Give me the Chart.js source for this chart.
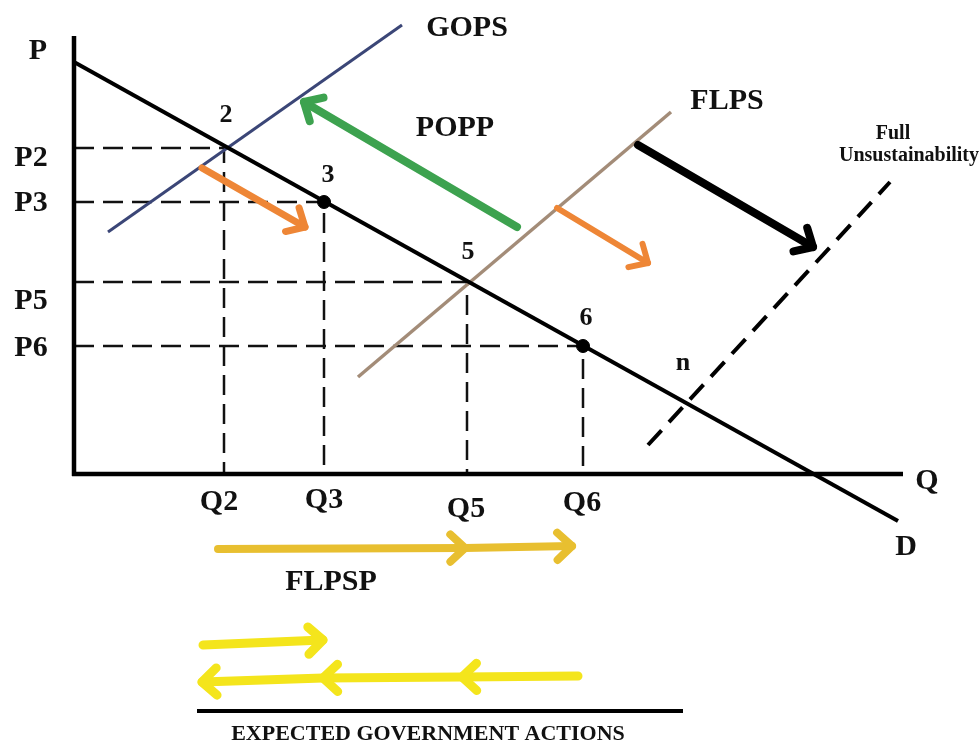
<!DOCTYPE html>
<html>
<head>
<meta charset="utf-8">
<title>Supply shifts and expected government actions</title>
<script src="https://cdn.jsdelivr.net/npm/chart.js@4/dist/chart.umd.min.js"></script>
<style>
  html, body { margin: 0; padding: 0; background: #fff; }
  #wrap { width: 979px; height: 744px; }
</style>
</head>
<body>
<div id="wrap"><canvas id="myChart" width="979" height="744"></canvas></div>
<script>
// ---- diagram values, in quantity / price units (origin = axis corner) ----
var qtyLabels = ["Q2", "Q3", "Q5", "Q6"];
var qtyLevels = [15.0, 25.0, 39.3, 50.9];
var priceLabels = ["P2", "P3", "P5", "P6"];
var priceLevels = [32.6, 27.2, 19.2, 12.8];

var demandQ = [0, 82.4];
var demandP = [41.2, -4.7];
var gopsQ = [3.4, 32.8];
var gopsP = [24.2, 44.9];
var flpsQ = [28.4, 59.7];
var flpsP = [9.7, 36.2];
var fullQ = [57.4, 81.6];
var fullP = [2.9, 29.2];

// equilibrium dots (Q3,P3) and (Q6,P6)
var dotIdx = [1, 3];

// arrows: [q, p] points, heads at listed indexes
var orangeShift1 = [[12.8, 30.6], [23.1, 24.7]];
var orangeShift2 = [[48.3, 26.6], [57.4, 21.1]];
var poppArrow = [[44.3, 24.7], [23.0, 37.2]];
var fullArrow = [[56.4, 32.9], [73.9, 22.7]];
var flpspArrow = [[14.4, -7.5], [39.1, -7.4], [49.8, -7.2]];
var govRight = [[12.9, -17.1], [24.9, -16.6]];
var govLeft = [[50.4, -20.2], [38.8, -20.3], [24.9, -20.4], [12.8, -20.8]];
var govRule = [[12.3, -23.7], [60.9, -23.7]];

// text labels
var textLabels = ["P", "P2", "P3", "P5", "P6", "2", "3", "5", "6", "n",
    "Q2", "Q3", "Q5", "Q6", "Q", "D", "GOPS", "POPP", "FLPS",
    "Full", "Unsustainability", "FLPSP", "EXPECTED GOVERNMENT ACTIONS"];
var textQ = [-3.6, -4.3, -4.3, -4.3, -4.3, 15.2, 25.4, 39.4, 51.2, 60.9,
    14.5, 25.0, 39.2, 50.8, 85.3, 83.2, 39.3, 38.1, 65.3,
    81.9, 83.5, 25.7, 35.4];
var textP = [42.3, 31.6, 27.1, 17.3, 12.6, 35.9, 29.9, 22.2, 15.6, 11.1,
    -2.8, -2.6, -3.5, -2.9, -0.7, -7.3, 44.6, 34.6, 37.3,
    34.0, 31.8, -10.8, -26.0];
var textSize = [30, 30, 30, 30, 30, 26, 26, 26, 26, 26,
    30, 30, 30, 30, 30, 30, 30, 30, 30,
    20, 20, 30, 22];

var serif = '"Liberation Serif", "Times New Roman", serif';

var toPts = function (qs, ps) {
    return qs.map(function (q, i) { return { x: q, y: ps[i] }; });
};
var pairPts = function (arr) {
    return arr.map(function (p) { return { x: p[0], y: p[1] }; });
};

var lineSet = function (data, color, width, extra) {
    var ds = {
        data: data,
        showLine: true,
        fill: false,
        pointRadius: 0,
        borderColor: color,
        borderWidth: width,
        borderCapStyle: "butt",
        tension: 0
    };
    for (var k in extra) ds[k] = extra[k];
    return ds;
};

var datasets = [];

// dashed guide lines
for (var i = 0; i < qtyLevels.length; i++) {
    datasets.push(lineSet([
        { x: 0, y: priceLevels[i] },
        { x: qtyLevels[i], y: priceLevels[i] },
        { x: qtyLevels[i], y: 0 }
    ], "#111", 2.5, { borderDash: [20, 9], order: 9 }));
}

// axes
datasets.push(lineSet([{ x: 0, y: 43.8 }, { x: 0, y: -0.2 }], "#000", 4.5, { order: 5 }));
datasets.push(lineSet([{ x: -0.2, y: 0 }, { x: 82.9, y: 0 }], "#000", 4.5, { order: 5 }));

// curves
datasets.push(lineSet(toPts(gopsQ, gopsP), "#3b4677", 3, { order: 6 }));
datasets.push(lineSet(toPts(flpsQ, flpsP), "#a38c78", 3.5, { order: 6 }));
datasets.push(lineSet(toPts(demandQ, demandP), "#000", 4, { order: 4 }));
datasets.push(lineSet(toPts(fullQ, fullP), "#000", 4, { borderDash: [20, 11], order: 4 }));

// dots
datasets.push({
    data: dotIdx.map(function (k) { return { x: qtyLevels[k], y: priceLevels[k] }; }),
    showLine: false,
    pointRadius: 6.5,
    pointBackgroundColor: "#000",
    pointBorderColor: "#000",
    order: 1
});

// arrow shafts
var arrowList = [
    { pts: orangeShift1, color: "#ee8636", width: 7, heads: [1] },
    { pts: orangeShift2, color: "#ee8636", width: 6, heads: [1] },
    { pts: poppArrow, color: "#3da24f", width: 8, heads: [1] },
    { pts: fullArrow, color: "#000", width: 8, heads: [1] },
    { pts: flpspArrow, color: "#e8bf30", width: 8, heads: [1, 2] },
    { pts: govRight, color: "#f4e51c", width: 9, heads: [1] },
    { pts: govLeft, color: "#f4e51c", width: 9, heads: [1, 2, 3] }
];
arrowList.forEach(function (a) {
    datasets.push(lineSet(pairPts(a.pts), a.color, a.width, { borderCapStyle: "round", order: 2 }));
});
datasets.push(lineSet(pairPts(govRule), "#000", 4, { order: 2 }));

var diagramPlugin = {
    id: "diagram",
    afterDatasetsDraw: function (chart) {
        var ctx = chart.ctx;
        var xs = chart.scales.x, ys = chart.scales.y;
        ctx.save();
        // arrow heads
        arrowList.forEach(function (a) {
            a.heads.forEach(function (h) {
                var tx = xs.getPixelForValue(a.pts[h][0]);
                var ty = ys.getPixelForValue(a.pts[h][1]);
                var fx = xs.getPixelForValue(a.pts[h - 1][0]);
                var fy = ys.getPixelForValue(a.pts[h - 1][1]);
                var ang = Math.atan2(ty - fy, tx - fx);
                var len = 20, spread = 0.75;
                ctx.strokeStyle = a.color;
                ctx.lineWidth = a.width;
                ctx.lineCap = "round";
                ctx.lineJoin = "round";
                ctx.beginPath();
                ctx.moveTo(tx - len * Math.cos(ang - spread), ty - len * Math.sin(ang - spread));
                ctx.lineTo(tx, ty);
                ctx.lineTo(tx - len * Math.cos(ang + spread), ty - len * Math.sin(ang + spread));
                ctx.stroke();
            });
        });
        // labels
        ctx.fillStyle = "#111";
        ctx.textAlign = "center";
        ctx.textBaseline = "middle";
        textLabels.forEach(function (t, i) {
            ctx.font = "bold " + textSize[i] + "px " + serif;
            ctx.fillText(t, xs.getPixelForValue(textQ[i]), ys.getPixelForValue(textP[i]));
        });
        ctx.restore();
    }
};

var ctx = document.getElementById("myChart");
var myChart = new Chart(ctx, {
    type: "scatter",
    data: { datasets: datasets },
    options: {
        responsive: false,
        animation: false,
        devicePixelRatio: 1,
        layout: { padding: 0, autoPadding: false },
        plugins: {
            legend: { display: false },
            tooltip: { enabled: false },
            title: { display: false }
        },
        scales: {
            x: { type: "linear", min: -7.4, max: 90.5, display: false },
            y: { type: "linear", min: -27.0, max: 47.4, display: false }
        }
    },
    plugins: [diagramPlugin]
});
</script>
</body>
</html>
